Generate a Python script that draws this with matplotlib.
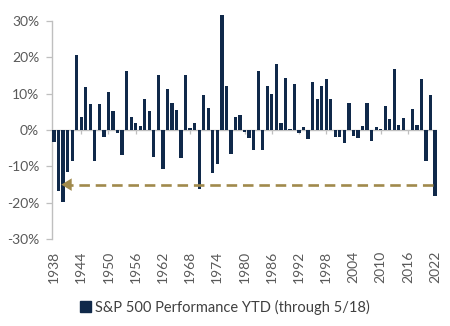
import matplotlib
matplotlib.use("Agg")
import matplotlib.pyplot as plt
import matplotlib.patches as mpatches
import numpy as np

plt.rcParams['font.family'] = ['Lato', 'DejaVu Sans']

# S&P 500 year-to-date return through May 18, in percent
years = np.arange(1938, 2023)
ytd_pct = [
    -3.2, -16.8, -19.8, -11.4, -8.5, 20.6, 3.6, 11.8, 7.0, -8.6,      # 1938-1947
    7.0, -1.8, 10.5, 5.3, -0.8, -6.8, 16.1, 3.6, 2.0, 1.1,            # 1948-1957
    8.4, 5.3, -7.3, 15.2, -10.6, 11.3, 7.5, 5.6, -7.8, 15.0,          # 1958-1967
    0.5, 1.8, -16.2, 9.5, 5.9, -11.8, -9.4, 31.6, 12.1, -6.5,         # 1968-1977
    3.6, 4.0, -0.5, -2.1, -5.5, 16.1, -5.5, 12.0, 10.0, 18.2,         # 1978-1987
    1.8, 14.4, 0.3, 12.7, -0.7, 0.9, -2.5, 13.1, 8.6, 12.0,           # 1988-1997
    13.9, 8.5, -2.0, -1.8, -3.5, 7.3, -1.6, -2.1, 1.1, 7.3,           # 1998-2007
    -2.9, 0.7, 0.4, 6.5, 3.0, 16.8, 1.5, 3.4, 0.1, 5.7,               # 2008-2017
    1.5, 14.0, -8.5, 9.7, -18.0,                                      # 2018-2022
]
tick_years = np.arange(1938, 2023, 6)
y_ticks = [-30, -20, -10, 0, 10, 20, 30]

ref_level = -15          # dashed reference line
ref_from, ref_to = 2021.6, 1939.6

bar_color = '#10294a'
gold = '#a08a4c'
gray = '#bfbfbf'
text_gray = '#595959'

fig = plt.figure(figsize=(4.5, 3.26), dpi=100)
ax = fig.add_axes([0.115, 0.266, 0.857, 0.6705])

ax.bar(years, ytd_pct, width=0.72, color=bar_color, zorder=3, clip_on=False)
ax.axhline(0, color=gray, lw=1.0, zorder=2)
ax.vlines(tick_years, -1.1, 0, color=gray, lw=0.9, zorder=2)

# dashed line with a left-pointing head
ax.plot([ref_from, ref_to + 1.2], [ref_level, ref_level], color=gold, lw=1.9,
        dashes=(4, 2.2), zorder=4, solid_capstyle='butt', dash_capstyle='butt')
ax.annotate('', xy=(ref_to, ref_level), xytext=(ref_to + 2.4, ref_level),
            arrowprops=dict(arrowstyle='-|>,head_length=0.75,head_width=0.45',
                            color=gold, lw=0, shrinkA=0, shrinkB=0), zorder=5)

ax.set_xlim(1937.5, 2022.5)
ax.set_ylim(-30, 30)
ax.set_yticks(y_ticks)
ax.set_yticklabels([f'{v}%' for v in y_ticks])
ax.set_xticks(tick_years)
ax.set_xticklabels([str(y) for y in tick_years], rotation=90)

for s in ['top', 'right', 'bottom']:
    ax.spines[s].set_visible(False)
ax.spines['left'].set_color(gray)
ax.spines['left'].set_linewidth(1.0)
ax.tick_params(axis='y', colors=gray, length=4, width=0.9, labelcolor=text_gray,
               labelsize=10, pad=5)
ax.tick_params(axis='x', length=0, labelcolor=text_gray, labelsize=10, pad=8)

handle = mpatches.Patch(color=bar_color, label='S&P 500 Performance YTD (through 5/18)')
leg = fig.legend(handles=[handle], loc='center', bbox_to_anchor=(0.5, 0.058),
                 frameon=False, fontsize=10.5, handlelength=0.7, handleheight=0.7,
                 handletextpad=0.3)
for t in leg.get_texts():
    t.set_color('#404040')

fig.savefig('out.png', dpi=100)
